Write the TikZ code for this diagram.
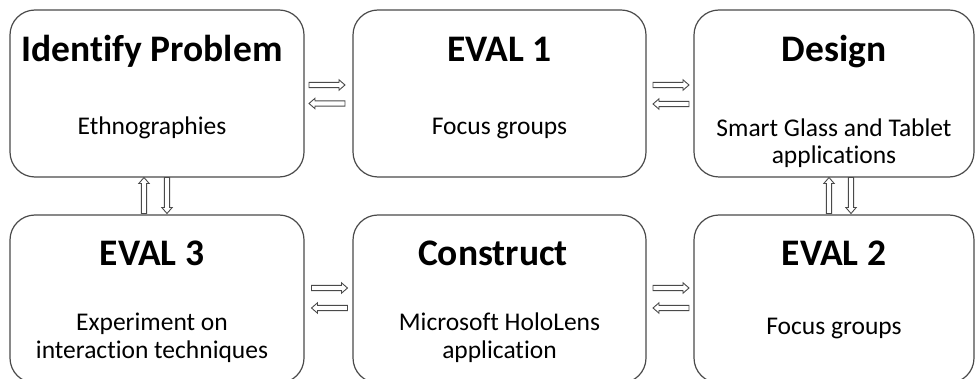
\documentclass[tikz,border=0pt]{standalone}
\usepackage{fontspec}
\setmainfont{Carlito}[Ligatures=NoCommon]

\definecolor{edge}{HTML}{4A4A4A}

\tikzset{
  stage/.style={draw=edge, line width=1.2pt, rounded corners=25pt, fill=white,
                inner sep=0pt, outer sep=0pt},
  stagetitle/.style={font=\fontsize{37.5}{40}\selectfont\bfseries, anchor=base, inner sep=0pt},
  stagetext/.style={font=\fontsize{25.5}{27.5}\selectfont, anchor=base, inner sep=0pt, align=center},
  % hollow block arrow, 36 units long, pointing along the local x axis
  flow/.pic={
    \draw[draw=edge, fill=white, line width=0.9pt, line join=miter]
      (-18,-2.6) -- (12,-2.6) -- (12,-5.2) -- (18,0) -- (12,5.2) -- (12,2.6) -- (-18,2.6) -- cycle;
  },
}

\begin{document}
\begin{tikzpicture}[x=1pt, y=-1pt]
  \useasboundingbox (0,0) rectangle (976,379);
  \begin{scope}
    \clip (0,0) rectangle (976,379);

    % top row
    \node[stage, minimum width=294pt, minimum height=167pt] (ident) at (157,93.5) {};
    \node[stage, minimum width=293pt, minimum height=167pt] (evalA) at (499.5,93.5) {};
    \node[stage, minimum width=280pt, minimum height=167pt] (design) at (834,93.5) {};
    % bottom row
    \node[stage, minimum width=294pt, minimum height=168pt] (evalC) at (157,299) {};
    \node[stage, minimum width=293pt, minimum height=168pt] (build) at (499.5,299) {};
    \node[stage, minimum width=280pt, minimum height=168pt] (evalB) at (834,299) {};

    % titles
    \node[stagetitle] (identT) at (152,62) {Identify Problem};
    \node[stagetitle] (evalAT) at (499.5,62) {EVAL 1};
    \node[stagetitle] (designT) at (834,62) {Design};
    \node[stagetitle] (evalCT) at (152,265) {EVAL 3};
    \node[stagetitle] (buildT) at (493,265) {Construct};
    \node[stagetitle] (evalBT) at (834,265) {EVAL 2};

    % descriptions
    \node[stagetext] (identD) at (152,135) {Ethnographies};
    \node[stagetext] (evalAD) at (499.5,135) {Focus groups};
    \node[stagetext] (designD1) at (834,137) {Smart Glass and Tablet};
    \node[stagetext] (designD2) at (834,164) {applications};
    \node[stagetext] (evalCD1) at (152,330) {Experiment on};
    \node[stagetext] (evalCD2) at (152,358) {interaction techniques};
    \node[stagetext] (buildD1) at (499.5,330) {Microsoft HoloLens};
    \node[stagetext] (buildD2) at (499.5,358) {application};
    \node[stagetext] (evalBD) at (834,334) {Focus groups};

    % horizontal links, top row
    \pic (a1) at (327,85) {flow};
    \pic[rotate=180] (a2) at (327,103.5) {flow};
    \pic (a3) at (671,85) {flow};
    \pic[rotate=180] (a4) at (671,104) {flow};
    % horizontal links, bottom row
    \pic (a5) at (329.5,288) {flow};
    \pic[rotate=180] (a6) at (329.5,308) {flow};
    \pic (a7) at (671,288) {flow};
    \pic[rotate=180] (a8) at (671,308) {flow};
    % vertical links: up on the left, down on the right
    \pic[rotate=90] (a9) at (144,195.5) {flow};
    \pic[rotate=-90] (a10) at (167,195.5) {flow};
    \pic[rotate=90] (a11) at (829,195.5) {flow};
    \pic[rotate=-90] (a12) at (851,195.5) {flow};
  \end{scope}
\end{tikzpicture}
\end{document}
